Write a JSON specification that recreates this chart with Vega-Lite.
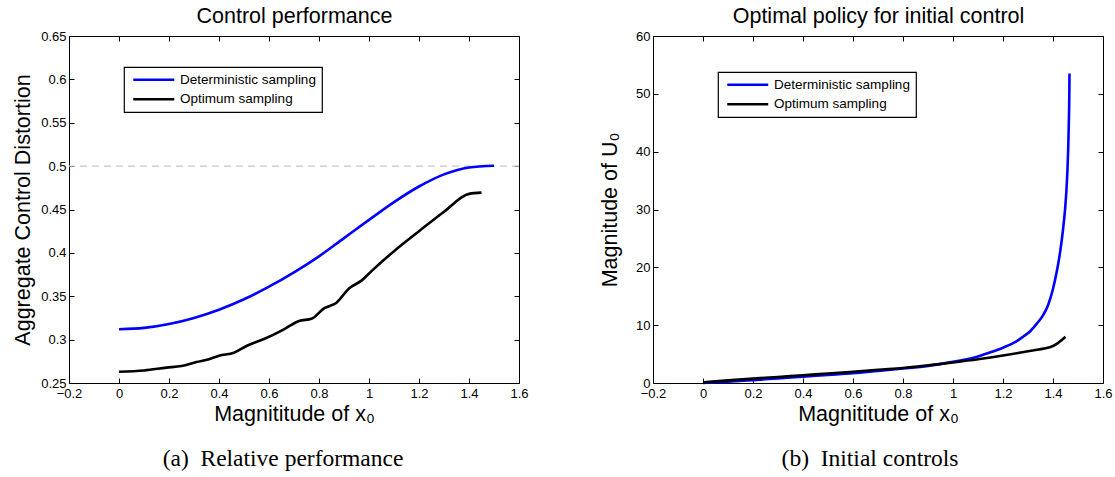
{
  "$schema": "https://vega.github.io/schema/vega-lite/v6.json",
  "background": "white",
  "padding": {"left": 12, "top": 5, "right": 5, "bottom": 5},
  "spacing": 134,
  "bounds": "flush",
  "config": {
    "font": "Liberation Sans",
    "view": {"stroke": null},
    "axis": {"grid": false, "domainColor": "black", "domainWidth": 1, "tickColor": "black", "tickWidth": 1, "tickSize": -5, "labelColor": "black", "titleColor": "black", "labelFontSize": 13, "titleFontSize": 21.5, "titleFontWeight": "normal", "labelFlush": false, "labelOverlap": false, "labelBound": false, "labelFont": "Liberation Sans", "titleFont": "Liberation Sans"},
    "title": {"font": "Liberation Serif", "fontSize": 23.5, "fontWeight": "normal", "color": "black", "orient": "bottom", "anchor": "middle"},
    "legend": {"fillColor": "white", "strokeColor": "black", "strokeWidth": 1.2, "padding": 6, "symbolType": "M-4,0H4", "symbolSize": 105, "symbolStrokeWidth": 2.6, "labelFontSize": 13.5, "labelColor": "black", "labelOffset": 19.6, "rowPadding": 4.5, "symbolOffset": 17, "labelFont": "Liberation Sans", "cornerRadius": 0}
  },
  "resolve": {"scale": {"color": "independent"}, "legend": {"color": "independent"}},
  "hconcat": [
    {
      "width": 450,
      "height": 347,
      "title": {"text": "(a)\u00a0\u00a0Relative performance", "offset": 22, "dx": -11},
      "data": {"values": [
        {"x": 0.0, "y": 0.312, "series": "Deterministic sampling"},
        {"x": 0.1, "y": 0.3135, "series": "Deterministic sampling"},
        {"x": 0.2, "y": 0.318, "series": "Deterministic sampling"},
        {"x": 0.3, "y": 0.325, "series": "Deterministic sampling"},
        {"x": 0.4, "y": 0.3345, "series": "Deterministic sampling"},
        {"x": 0.5, "y": 0.3465, "series": "Deterministic sampling"},
        {"x": 0.6, "y": 0.361, "series": "Deterministic sampling"},
        {"x": 0.7, "y": 0.3775, "series": "Deterministic sampling"},
        {"x": 0.8, "y": 0.396, "series": "Deterministic sampling"},
        {"x": 0.9, "y": 0.417, "series": "Deterministic sampling"},
        {"x": 1.0, "y": 0.438, "series": "Deterministic sampling"},
        {"x": 1.1, "y": 0.4585, "series": "Deterministic sampling"},
        {"x": 1.2, "y": 0.4765, "series": "Deterministic sampling"},
        {"x": 1.3, "y": 0.4905, "series": "Deterministic sampling"},
        {"x": 1.4, "y": 0.4985, "series": "Deterministic sampling"},
        {"x": 1.5, "y": 0.5005, "series": "Deterministic sampling"},
        {"x": 0.0, "y": 0.263, "series": "Optimum sampling"},
        {"x": 0.1, "y": 0.2645, "series": "Optimum sampling"},
        {"x": 0.19, "y": 0.2677, "series": "Optimum sampling"},
        {"x": 0.25, "y": 0.2696, "series": "Optimum sampling"},
        {"x": 0.31, "y": 0.2742, "series": "Optimum sampling"},
        {"x": 0.36, "y": 0.2775, "series": "Optimum sampling"},
        {"x": 0.40, "y": 0.2815, "series": "Optimum sampling"},
        {"x": 0.46, "y": 0.2849, "series": "Optimum sampling"},
        {"x": 0.51, "y": 0.2927, "series": "Optimum sampling"},
        {"x": 0.58, "y": 0.3007, "series": "Optimum sampling"},
        {"x": 0.66, "y": 0.3119, "series": "Optimum sampling"},
        {"x": 0.72, "y": 0.3215, "series": "Optimum sampling"},
        {"x": 0.77, "y": 0.324, "series": "Optimum sampling"},
        {"x": 0.82, "y": 0.336, "series": "Optimum sampling"},
        {"x": 0.87, "y": 0.3426, "series": "Optimum sampling"},
        {"x": 0.92, "y": 0.359, "series": "Optimum sampling"},
        {"x": 0.97, "y": 0.368, "series": "Optimum sampling"},
        {"x": 1.01, "y": 0.379, "series": "Optimum sampling"},
        {"x": 1.1, "y": 0.402, "series": "Optimum sampling"},
        {"x": 1.2, "y": 0.425, "series": "Optimum sampling"},
        {"x": 1.3, "y": 0.4475, "series": "Optimum sampling"},
        {"x": 1.4, "y": 0.468, "series": "Optimum sampling"},
        {"x": 1.45, "y": 0.4694, "series": "Optimum sampling"}
      ]},
      "layer": [
        {
          "data": {"values": [{"ref": 0.5}]},
          "mark": {"type": "rule", "color": "#c8c8c8", "strokeDash": [7, 5], "strokeWidth": 1.2},
          "encoding": {"y": {"field": "ref", "type": "quantitative", "scale": {"domain": [0.25, 0.65], "nice": false, "zero": false}, "axis": null}}
        },
        {
          "mark": {"type": "line", "interpolate": "monotone", "strokeWidth": 2.6},
          "encoding": {
            "x": {"field": "x", "type": "quantitative", "scale": {"domain": [-0.2, 1.6], "nice": false, "zero": false},
                  "axis": {"orient": "bottom", "values": [-0.2, 0, 0.2, 0.4, 0.6, 0.8, 1, 1.2, 1.4, 1.6], "format": "~g", "title": "Magnititude of x\u2080", "labelPadding": 9, "titlePadding": 3}},
            "y": {"field": "y", "type": "quantitative", "scale": {"domain": [0.25, 0.65], "nice": false, "zero": false},
                  "axis": {"orient": "left", "values": [0.25, 0.3, 0.35, 0.4, 0.45, 0.5, 0.55, 0.6, 0.65], "format": "~g", "title": "Aggregate Control Distortion", "labelPadding": 8, "titlePadding": 6}},
            "color": {"field": "series", "type": "nominal", "scale": {"domain": ["Deterministic sampling", "Optimum sampling"], "range": ["#0000ff", "#000000"]},
                      "legend": {"orient": "none", "legendX": 55, "legendY": 31, "title": null}}
          }
        },
        {
          "mark": {"type": "point", "opacity": 0},
          "encoding": {
            "x": {"field": "x", "type": "quantitative", "scale": {"domain": [-0.2, 1.6], "nice": false, "zero": false},
                  "axis": {"orient": "top", "values": [-0.2, 0, 0.2, 0.4, 0.6, 0.8, 1, 1.2, 1.4, 1.6], "labels": false, "title": "Control performance", "titlePadding": 8}},
            "y": {"field": "y", "type": "quantitative", "scale": {"domain": [0.25, 0.65], "nice": false, "zero": false},
                  "axis": {"orient": "right", "values": [0.25, 0.3, 0.35, 0.4, 0.45, 0.5, 0.55, 0.6, 0.65], "labels": false, "title": null}}
          }
        }
      ],
      "resolve": {"axis": {"x": "independent", "y": "independent"}}
    },
    {
      "width": 450,
      "height": 347,
      "title": {"text": "(b)\u00a0\u00a0Initial controls", "offset": 22, "dx": -8},
      "data": {"values": [
        {"x": 0.0, "y": 0.0, "series": "Deterministic sampling"},
        {"x": 0.1, "y": 0.22, "series": "Deterministic sampling"},
        {"x": 0.2, "y": 0.5, "series": "Deterministic sampling"},
        {"x": 0.3, "y": 0.8, "series": "Deterministic sampling"},
        {"x": 0.4, "y": 1.1, "series": "Deterministic sampling"},
        {"x": 0.5, "y": 1.4, "series": "Deterministic sampling"},
        {"x": 0.6, "y": 1.7, "series": "Deterministic sampling"},
        {"x": 0.7, "y": 2.1, "series": "Deterministic sampling"},
        {"x": 0.8, "y": 2.5, "series": "Deterministic sampling"},
        {"x": 0.9, "y": 2.95, "series": "Deterministic sampling"},
        {"x": 1.0, "y": 3.65, "series": "Deterministic sampling"},
        {"x": 1.05, "y": 4.05, "series": "Deterministic sampling"},
        {"x": 1.1, "y": 4.6, "series": "Deterministic sampling"},
        {"x": 1.15, "y": 5.3, "series": "Deterministic sampling"},
        {"x": 1.2, "y": 6.1, "series": "Deterministic sampling"},
        {"x": 1.25, "y": 7.1, "series": "Deterministic sampling"},
        {"x": 1.28, "y": 8.0, "series": "Deterministic sampling"},
        {"x": 1.31, "y": 9.0, "series": "Deterministic sampling"},
        {"x": 1.336, "y": 10.3, "series": "Deterministic sampling"},
        {"x": 1.36, "y": 11.7, "series": "Deterministic sampling"},
        {"x": 1.376, "y": 13.0, "series": "Deterministic sampling"},
        {"x": 1.39, "y": 14.7, "series": "Deterministic sampling"},
        {"x": 1.4, "y": 16.3, "series": "Deterministic sampling"},
        {"x": 1.41, "y": 18.2, "series": "Deterministic sampling"},
        {"x": 1.42, "y": 20.4, "series": "Deterministic sampling"},
        {"x": 1.43, "y": 23.1, "series": "Deterministic sampling"},
        {"x": 1.44, "y": 26.5, "series": "Deterministic sampling"},
        {"x": 1.448, "y": 29.9, "series": "Deterministic sampling"},
        {"x": 1.454, "y": 33.5, "series": "Deterministic sampling"},
        {"x": 1.458, "y": 37.0, "series": "Deterministic sampling"},
        {"x": 1.461, "y": 40.8, "series": "Deterministic sampling"},
        {"x": 1.463, "y": 44.5, "series": "Deterministic sampling"},
        {"x": 1.465, "y": 49.0, "series": "Deterministic sampling"},
        {"x": 1.466, "y": 53.5, "series": "Deterministic sampling"},
        {"x": 0.0, "y": 0.1, "series": "Optimum sampling"},
        {"x": 0.1, "y": 0.45, "series": "Optimum sampling"},
        {"x": 0.2, "y": 0.75, "series": "Optimum sampling"},
        {"x": 0.3, "y": 1.05, "series": "Optimum sampling"},
        {"x": 0.4, "y": 1.35, "series": "Optimum sampling"},
        {"x": 0.5, "y": 1.65, "series": "Optimum sampling"},
        {"x": 0.6, "y": 1.95, "series": "Optimum sampling"},
        {"x": 0.7, "y": 2.3, "series": "Optimum sampling"},
        {"x": 0.8, "y": 2.6, "series": "Optimum sampling"},
        {"x": 0.9, "y": 3.05, "series": "Optimum sampling"},
        {"x": 1.0, "y": 3.55, "series": "Optimum sampling"},
        {"x": 1.1, "y": 4.1, "series": "Optimum sampling"},
        {"x": 1.2, "y": 4.75, "series": "Optimum sampling"},
        {"x": 1.3, "y": 5.5, "series": "Optimum sampling"},
        {"x": 1.4, "y": 6.4, "series": "Optimum sampling"},
        {"x": 1.45, "y": 8.0, "series": "Optimum sampling"}
      ]},
      "layer": [
        {
          "mark": {"type": "line", "interpolate": "monotone", "strokeWidth": 2.6},
          "encoding": {
            "x": {"field": "x", "type": "quantitative", "scale": {"domain": [-0.2, 1.6], "nice": false, "zero": false},
                  "axis": {"orient": "bottom", "values": [-0.2, 0, 0.2, 0.4, 0.6, 0.8, 1, 1.2, 1.4, 1.6], "format": "~g", "title": "Magnititude of x\u2080", "labelPadding": 9, "titlePadding": 3}},
            "y": {"field": "y", "type": "quantitative", "scale": {"domain": [0, 60], "nice": false, "zero": false},
                  "axis": {"orient": "left", "values": [0, 10, 20, 30, 40, 50, 60], "format": "d", "title": "Magnitude of U\u2080", "labelPadding": 8, "titlePadding": 14}},
            "color": {"field": "series", "type": "nominal", "scale": {"domain": ["Deterministic sampling", "Optimum sampling"], "range": ["#0000ff", "#000000"]},
                      "legend": {"orient": "none", "legendX": 65, "legendY": 36, "title": null}}
          }
        },
        {
          "mark": {"type": "point", "opacity": 0},
          "encoding": {
            "x": {"field": "x", "type": "quantitative", "scale": {"domain": [-0.2, 1.6], "nice": false, "zero": false},
                  "axis": {"orient": "top", "values": [-0.2, 0, 0.2, 0.4, 0.6, 0.8, 1, 1.2, 1.4, 1.6], "labels": false, "title": "Optimal policy for initial control", "titlePadding": 8}},
            "y": {"field": "y", "type": "quantitative", "scale": {"domain": [0, 60], "nice": false, "zero": false},
                  "axis": {"orient": "right", "values": [0, 10, 20, 30, 40, 50, 60], "labels": false, "title": null}}
          }
        }
      ],
      "resolve": {"axis": {"x": "independent", "y": "independent"}}
    }
  ]
}
